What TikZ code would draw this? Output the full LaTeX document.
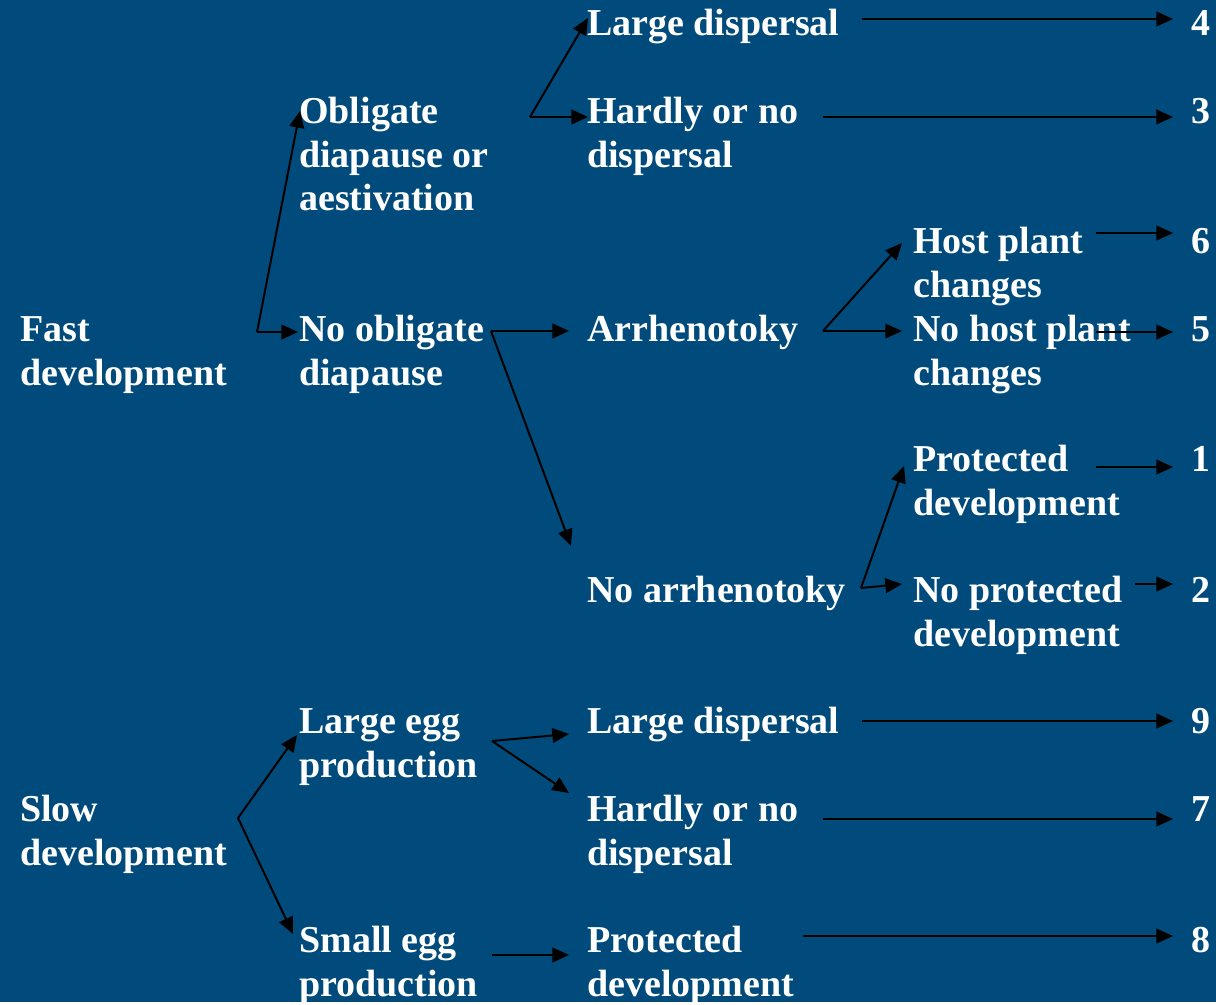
\documentclass[tikz,border=0pt]{standalone}
\usepackage{fontspec}
\setmainfont{Liberation Serif}
\usepackage{tikz}
\usetikzlibrary{arrows.meta}
\definecolor{slideblue}{RGB}{0,75,123}

\begin{document}
\begin{tikzpicture}[
  x=0.75pt, y=-0.75pt,
  textnode/.style={anchor=north west, inner sep=0pt, align=left, text=white,
                   font=\fontsize{28.5}{32.6}\selectfont\bfseries},
  numnode/.style={textnode},
  arrowline/.style={draw, black, line width=1.5pt,
                    -{Triangle[length=12.5pt,width=11pt]}},
]
  % Background
  \fill[slideblue] (0,0) rectangle (1216,1002);

  % Column 1
  \node[textnode] (fast) at (20,311) {\strut Fast\\development};
  \node[textnode] (slow) at (20,791) {\strut Slow\\development};

  % Column 2
  \node[textnode] (obl) at (299,93) {\strut Obligate\\diapause or\\aestivation};
  \node[textnode] (noobl) at (299,311) {\strut No obligate\\diapause};
  \node[textnode] (largeegg) at (299,703) {\strut Large egg\\production};
  \node[textnode] (smallegg) at (299,922) {\strut Small egg\\production};

  % Column 3
  \node[textnode] (largedisp) at (587,5) {\strut Large dispersal};
  \node[textnode] (hardly) at (587,93) {\strut Hardly or no\\dispersal};
  \node[textnode] (arrh) at (587,311) {\strut Arrhenotoky};
  \node[textnode] (noarrh) at (587,572) {\strut No arrhenotoky};
  \node[textnode] (largedispb) at (587,703) {\strut Large dispersal};
  \node[textnode] (hardlyb) at (587,791) {\strut Hardly or no\\dispersal};
  \node[textnode] (protb) at (587,922) {\strut Protected\\development};

  % Column 4
  \node[textnode] (host) at (913,223) {\strut Host plant\\changes};
  \node[textnode] (nohost) at (913,311) {\strut No host plant\\changes};
  \node[textnode] (prot) at (913,441) {\strut Protected\\development};
  \node[textnode] (noprot) at (913,572) {\strut No protected\\development};

  % Outcome numbers
  \foreach \n/\y in {4/5, 3/93, 6/223, 5/311, 1/441, 2/572, 9/703, 7/791, 8/922}
    \node[numnode] (n\n) at (1191,\y) {\strut\n};

  % Forks and arrow ends
  \coordinate (fastfork) at (257,332);
  \coordinate (oblfork) at (530,117);
  \coordinate (nooblfork) at (491,331);
  \coordinate (arrhfork) at (823,331);
  \coordinate (noarrhfork) at (861,588);
  \coordinate (slowfork) at (238,818);
  \coordinate (largeeggfork) at (492,741);
  \coordinate (smalleggout) at (492,955);

  \coordinate (obl-in) at (300,111);
  \coordinate (noobl-in) at (298,332);
  \coordinate (largedisp-in) at (588,18);
  \coordinate (hardly-in) at (588,117);
  \coordinate (arrh-in) at (569,331);
  \coordinate (noarrh-in) at (571,546);
  \coordinate (host-in) at (902,243);
  \coordinate (nohost-in) at (902,331);
  \coordinate (prot-in) at (904,466);
  \coordinate (noprot-in) at (902,584);
  \coordinate (largeegg-in) at (297,735);
  \coordinate (smallegg-in) at (293,934);
  \coordinate (largedispb-in) at (569,734);
  \coordinate (hardlyb-in) at (569,793);
  \coordinate (protb-in) at (569,955);

  \coordinate (largedisp-out) at (862,19);
  \coordinate (hardly-out) at (823,117);
  \coordinate (host-out) at (1096,233);
  \coordinate (nohost-out) at (1096,332);
  \coordinate (prot-out) at (1096,467);
  \coordinate (noprot-out) at (1135,584);
  \coordinate (largedispb-out) at (862,721);
  \coordinate (hardlyb-out) at (823,819);
  \coordinate (protb-out) at (803,936);

  % Fast development branch
  \draw[arrowline] (fastfork) -- (obl-in);
  \draw[arrowline] (fastfork) -- (noobl-in);
  \draw[arrowline] (oblfork) -- (largedisp-in);
  \draw[arrowline] (oblfork) -- (hardly-in);
  \draw[arrowline] (nooblfork) -- (arrh-in);
  \draw[arrowline] (nooblfork) -- (noarrh-in);
  \draw[arrowline] (arrhfork) -- (host-in);
  \draw[arrowline] (arrhfork) -- (nohost-in);
  \draw[arrowline] (noarrhfork) -- (prot-in);
  \draw[arrowline] (noarrhfork) -- (noprot-in);

  % Slow development branch
  \draw[arrowline] (slowfork) -- (largeegg-in);
  \draw[arrowline] (slowfork) -- (smallegg-in);
  \draw[arrowline] (largeeggfork) -- (largedispb-in);
  \draw[arrowline] (largeeggfork) -- (hardlyb-in);
  \draw[arrowline] (smalleggout) -- (protb-in);

  % To outcome numbers
  \draw[arrowline, shorten >=13.5pt] (largedisp-out) -- (largedisp-out -| n4.west);
  \draw[arrowline, shorten >=13.5pt] (hardly-out) -- (hardly-out -| n3.west);
  \draw[arrowline, shorten >=13.5pt] (host-out) -- (host-out -| n6.west);
  \draw[arrowline, shorten >=13.5pt] (nohost-out) -- (nohost-out -| n5.west);
  \draw[arrowline, shorten >=13.5pt] (prot-out) -- (prot-out -| n1.west);
  \draw[arrowline, shorten >=13.5pt] (noprot-out) -- (noprot-out -| n2.west);
  \draw[arrowline, shorten >=13.5pt] (largedispb-out) -- (largedispb-out -| n9.west);
  \draw[arrowline, shorten >=13.5pt] (hardlyb-out) -- (hardlyb-out -| n7.west);
  \draw[arrowline, shorten >=13.5pt] (protb-out) -- (protb-out -| n8.west);
\end{tikzpicture}
\end{document}
